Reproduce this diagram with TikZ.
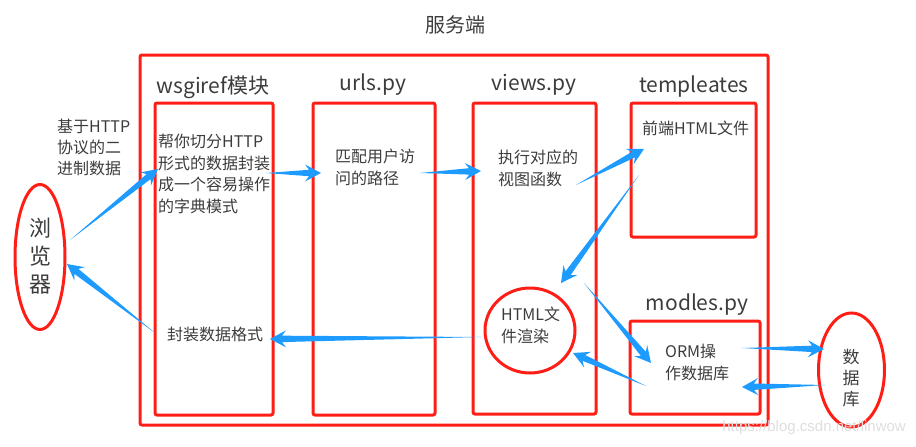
\documentclass[tikz,border=0pt]{standalone}
\usepackage{fontspec}
\setmainfont{Noto Sans CJK SC}
\newfontfamily\wmfont{Liberation Sans}
\usetikzlibrary{calc,shapes.geometric}
\definecolor{rd}{RGB}{255,30,22}
\definecolor{bl}{RGB}{30,155,255}
\definecolor{tx}{RGB}{60,60,60}
\definecolor{wm}{RGB}{222,222,222}
\tikzset{
  box/.style={draw=rd, line width=3pt, rounded corners=2pt, inner sep=0pt},
  ring/.style={draw=rd, line width=3pt, inner sep=0pt},
  title/.style={text=tx, font=\fontsize{21}{24}\selectfont, inner sep=0pt},
  body/.style={text=tx, font=\fontsize{16}{21.5}\selectfont, inner sep=0pt, align=left},
}
\newcommand\taperarrow[2]{%
  \path ($(#2)!16pt!(#1)$) coordinate (hb) ($(#2)!12pt!(#1)$) coordinate (hn);
  \fill[bl] (#1) -- ($(hn)!3.2pt!90:(#1)$) -- ($(hb)!8.5pt!90:(#1)$) -- (#2)
    -- ($(hb)!8.5pt!-90:(#1)$) -- ($(hn)!3.2pt!-90:(#1)$) -- cycle;}
\begin{document}
\begin{tikzpicture}[x=1pt,y=-1pt]
\useasboundingbox (0,0) rectangle (916,447);
% title
\node[text=tx, font=\fontsize{20}{22}\selectfont, inner sep=0pt] (srv) at (455,25) {服务端};
% outer server frame
\node[box, minimum width=628pt, minimum height=370pt] (server) at (454,240) {};
% boxes
\node[box, minimum width=118pt, minimum height=312pt] (wsgi) at (214,259) {};
\node[box, minimum width=122pt, minimum height=312pt] (urls) at (374,259) {};
\node[box, minimum width=123pt, minimum height=311pt] (views) at (534.5,258.5) {};
\node[box, minimum width=125pt, minimum height=134pt] (tpl) at (693.5,170) {};
\node[box, minimum width=130pt, minimum height=93pt] (orm) at (695,367.5) {};
% box titles
\node[title] (twsgi) at (213,87) {wsgiref模块};
\node[title] (turls) at (373,85) {urls.py};
\node[title] (tviews) at (534,85) {views.py};
\node[title] (ttpl) at (694,87) {templeates};
\node[title] (torm) at (697,305) {modles.py};
% ellipses
\node[ring, ellipse, minimum width=50pt, minimum height=145pt] (browser) at (40,257) {};
\node[text=tx, font=\fontsize{22}{28}\selectfont, align=center, inner sep=0pt] (tbrowser) at (40,256) {浏\\览\\器};
\node[ring, ellipse, minimum width=66pt, minimum height=114pt] (db) at (851.5,370) {};
\node[text=tx, font=\fontsize{17}{21}\selectfont, align=center, inner sep=0pt] (tdb) at (851,378) {数\\据\\库};
\node[ring, ellipse, minimum width=90pt, minimum height=85pt] (render) at (530,330.5) {};
\node[body, anchor=north west] (trender) at (501,307) {HTML文\\件渲染};
% body texts
\node[text=tx, font=\fontsize{16}{21}\selectfont, inner sep=0pt, align=left, anchor=north west] (thttp) at (57,119) {基于HTTP\\协议的二\\进制数据};
\node[body, anchor=north west] (twsgitxt) at (158,134) {帮你切分HTTP\\形式的数据封装\\成一个容易操作\\的字典模式};
\node[body, anchor=north west] (tpack) at (167,327) {封装数据格式};
\node[body, anchor=north west] (turlstxt) at (335,149) {匹配用户访\\问的路径};
\node[body, anchor=north west] (tviewstxt) at (498,150) {执行对应的\\视图函数};
\node[body, anchor=north west] (ttpltxt) at (642,121) {前端HTML文件};
\node[body, anchor=north west] (tormtxt) at (665,344) {ORM操\\作数据库};
% watermark
\node[text=wm, font=\wmfont\fontsize{15}{18}\selectfont, inner sep=0pt, anchor=east] (mark) at (906,428) {https://blog.csdn.net/linwow};
% connector end points
\coordinate (a1s) at (70,240);  \coordinate (a1e) at (158,169);
\coordinate (a2s) at (266,173); \coordinate (a2e) at (321,173);
\coordinate (a3s) at (420,173); \coordinate (a3e) at (481,171);
\coordinate (a4s) at (576,185); \coordinate (a4e) at (644,149);
\coordinate (a5s) at (639,175); \coordinate (a5e) at (561,283);
\coordinate (a6s) at (584,283); \coordinate (a6e) at (651,363);
\coordinate (a7s) at (646,386); \coordinate (a7e) at (573,353);
\coordinate (a8s) at (742,348); \coordinate (a8e) at (824,349);
\coordinate (a9s) at (825,385); \coordinate (a9e) at (742,387);
\coordinate (a10s) at (482,337); \coordinate (a10e) at (270,339);
\coordinate (a11s) at (155,333); \coordinate (a11e) at (67,264);
\taperarrow{a1s}{a1e}
\taperarrow{a2s}{a2e}
\taperarrow{a3s}{a3e}
\taperarrow{a4s}{a4e}
\taperarrow{a5s}{a5e}
\taperarrow{a6s}{a6e}
\taperarrow{a7s}{a7e}
\taperarrow{a8s}{a8e}
\taperarrow{a9s}{a9e}
\taperarrow{a10s}{a10e}
\taperarrow{a11s}{a11e}
\end{tikzpicture}
\end{document}
